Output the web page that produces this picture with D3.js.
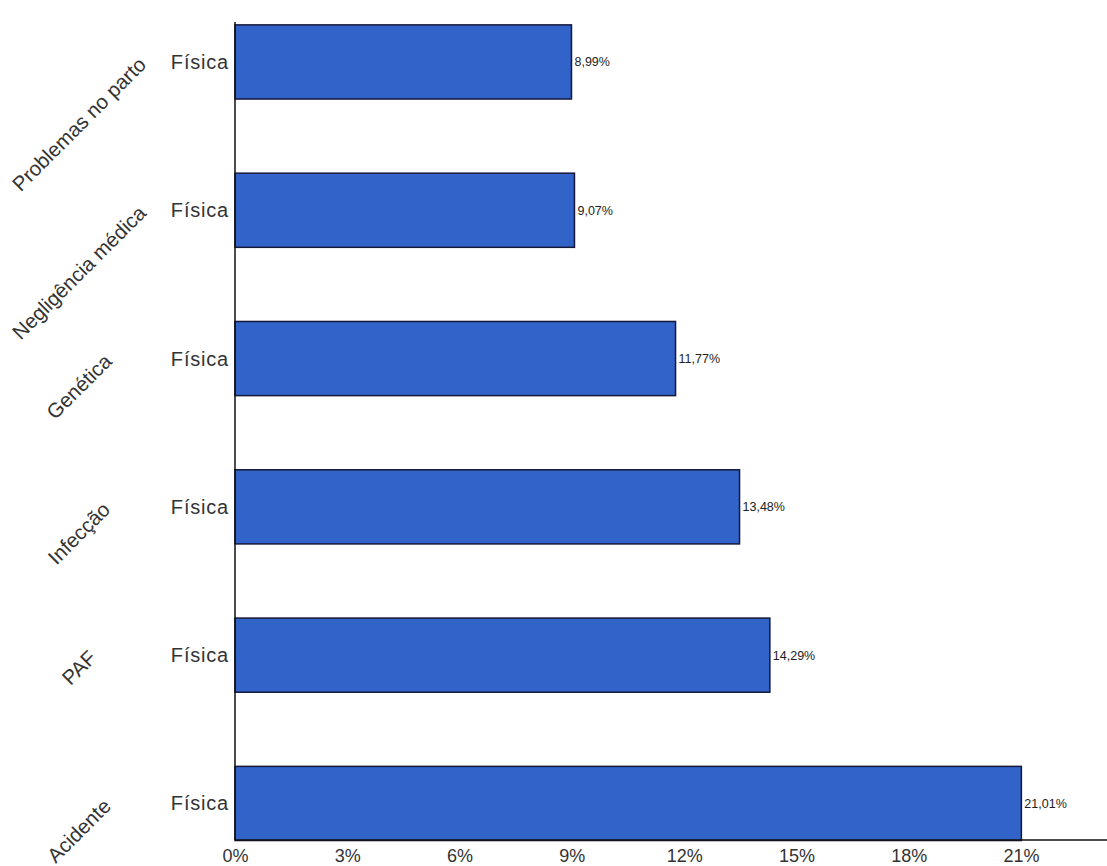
<!DOCTYPE html>
<html>
<head>
<meta charset="utf-8">
<script src="https://cdn.jsdelivr.net/npm/d3@7/dist/d3.min.js"></script>
<style>
  html, body { margin: 0; padding: 0; background: #fff; }
  svg { display: block; font-family: "Liberation Sans", Arial, sans-serif; }
</style>
</head>
<body>
<svg id="chart" width="1107" height="866"></svg>
<script>
const categories = ["Problemas no parto", "Negligência médica", "Genética", "Infecção", "PAF", "Acidente"];
const subLabels = ["Física", "Física", "Física", "Física", "Física", "Física"];
const values = [8.99, 9.07, 11.77, 13.48, 14.29, 21.01];
const tickValues = [0, 3, 6, 9, 12, 15, 18, 21];

const W = 1107, H = 866;
const svg = d3.select("#chart");

const x = d3.scaleLinear().domain([0, 21]).range([235, 1021]);
const y = d3.scaleBand().domain(categories).range([-12.2, 877.6])
  .paddingInner(0.5).paddingOuter(0.25);
const axisY = 840;

const fmt = v => v.toFixed(2).replace(".", ",") + "%";

// bars
svg.append("g").selectAll("rect").data(categories).join("rect")
  .attr("x", x(0))
  .attr("y", (d) => y(d))
  .attr("width", (d, i) => x(values[i]) - x(0))
  .attr("height", y.bandwidth())
  .attr("fill", "#3163C9")
  .attr("stroke", "#15183a")
  .attr("stroke-width", 1.5);

// value labels
svg.append("g").selectAll("text").data(categories).join("text")
  .attr("x", (d, i) => x(values[i]) + 3)
  .attr("y", d => y(d) + y.bandwidth() / 2)
  .attr("dy", "0.35em")
  .attr("font-size", 12.5)
  .attr("fill", "#222")
  .text((d, i) => fmt(values[i]));

// sub labels (Física)
svg.append("g").selectAll("text").data(categories).join("text")
  .attr("x", x(0) - 6)
  .attr("y", d => y(d) + y.bandwidth() / 2)
  .attr("dy", "0.35em")
  .attr("text-anchor", "end")
  .attr("font-size", 20)
  .attr("letter-spacing", 0.8)
  .attr("fill", "#333")
  .text((d, i) => subLabels[i]);

// rotated category labels
const catG = svg.append("g");
categories.forEach((c, i) => {
  const t = catG.append("text")
    .attr("font-size", 20.5)
    .attr("fill", "#333")
    .attr("text-anchor", "middle")
    .text(c);
  const len = t.node().getComputedTextLength();
  const cx = 84;
  const cy = y(c) + y.bandwidth() / 2 + 4 + len * 0.354;
  t.attr("transform", `translate(${cx},${cy}) rotate(-45)`);
});

// axis lines
svg.append("line")
  .attr("x1", x(0)).attr("x2", x(0))
  .attr("y1", y(categories[0]) - 3).attr("y2", axisY)
  .attr("stroke", "#111").attr("stroke-width", 1.5);
svg.append("line")
  .attr("x1", x(0)).attr("x2", W)
  .attr("y1", axisY).attr("y2", axisY)
  .attr("stroke", "#111").attr("stroke-width", 1.5);

// x axis tick labels
const xAxis = d3.axisBottom(x).tickValues(tickValues)
  .tickFormat(d => d + "%").tickSize(0).tickPadding(0);
const gx = svg.append("g").attr("transform", `translate(0,${axisY})`).call(xAxis);
gx.select(".domain").remove();
gx.selectAll("text")
  .attr("y", 22)
  .attr("dy", 0)
  .attr("font-size", 18)
  .attr("font-family", "Liberation Sans, Arial, sans-serif")
  .attr("fill", "#333");
</script>
</body>
</html>
